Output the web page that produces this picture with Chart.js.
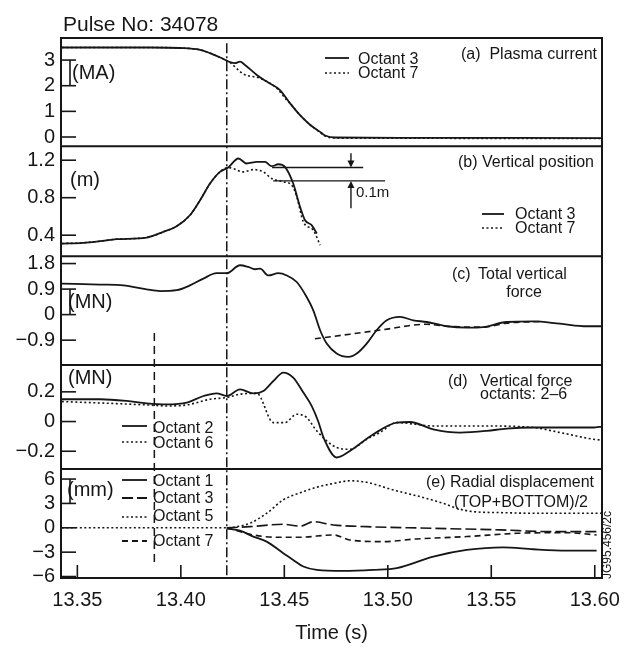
<!DOCTYPE html>
<html>
<head>
<meta charset="utf-8">
<script src="https://cdn.jsdelivr.net/npm/chart.js@4.4.1/dist/chart.umd.min.js"></script>
<style>
  html, body { margin: 0; padding: 0; background: #fff; overflow: hidden; }
  canvas { display: block; }
</style>
</head>
<body>
<canvas id="pulseChart" width="638" height="648"></canvas>
<script>
// time axis
const xTicks = [13.35, 13.40, 13.45, 13.50, 13.55, 13.60];
const xRange = [13.3421, 13.6035];
const tDisrupt = 13.4222;   // dash-dot line
const tMarker = 13.3872;    // dashed line

// (a) plasma current, MA
const tA3 = [13.3425, 13.3851, 13.3996, 13.4093, 13.4141, 13.4198, 13.4238, 13.4262, 13.4286, 13.4310, 13.4367, 13.4415, 13.4479, 13.4528, 13.4576, 13.4624, 13.4673, 13.4697, 13.4745, 13.5059, 13.6035];
const vA3 = [3.49, 3.49, 3.47, 3.40, 3.27, 3.07, 2.92, 2.88, 2.94, 2.81, 2.42, 2.16, 1.83, 1.31, 0.85, 0.48, 0.20, 0.06, -0.02, -0.03, -0.04];
const tA7 = [13.3425, 13.3851, 13.3996, 13.4093, 13.4141, 13.4198, 13.4238, 13.4302, 13.4383, 13.4463, 13.4512, 13.4528, 13.4576, 13.4624, 13.4673, 13.4697, 13.4745, 13.5059, 13.6035];
const vA7 = [3.49, 3.49, 3.47, 3.40, 3.27, 3.07, 2.90, 2.46, 2.29, 1.90, 1.44, 1.31, 0.85, 0.48, 0.18, 0.04, -0.04, -0.05, -0.06];

// (b) vertical position, m
const tB3 = [13.3425, 13.3529, 13.3610, 13.3690, 13.3835, 13.3915, 13.3980, 13.4044, 13.4093, 13.4141, 13.4189, 13.4229, 13.4278, 13.4318, 13.4367, 13.4407, 13.4439, 13.4471, 13.4503, 13.4543, 13.4576, 13.4600, 13.4632, 13.4657];
const vB3 = [0.311, 0.318, 0.336, 0.357, 0.375, 0.435, 0.496, 0.613, 0.773, 0.951, 1.075, 1.122, 1.218, 1.165, 1.182, 1.182, 1.136, 1.157, 1.129, 0.951, 0.702, 0.560, 0.507, 0.418];
const tB7 = [13.3425, 13.3529, 13.3610, 13.3690, 13.3835, 13.3915, 13.3980, 13.4044, 13.4093, 13.4141, 13.4189, 13.4229, 13.4254, 13.4302, 13.4350, 13.4399, 13.4439, 13.4495, 13.4536, 13.4560, 13.4592, 13.4640, 13.4673];
const vB7 = [0.311, 0.318, 0.336, 0.357, 0.375, 0.435, 0.496, 0.613, 0.773, 0.951, 1.075, 1.122, 1.110, 1.075, 1.100, 1.075, 1.005, 0.970, 0.933, 0.810, 0.542, 0.453, 0.293];
const bMarks = [1.122, 0.979];  // the 0.1m bracket

// (c) total vertical force, MN
const tC = [13.3425, 13.3610, 13.3722, 13.3835, 13.3900, 13.3980, 13.4044, 13.4109, 13.4173, 13.4222, 13.4286, 13.4326, 13.4358, 13.4383, 13.4423, 13.4471, 13.4512, 13.4560, 13.4608, 13.4640, 13.4673, 13.4705, 13.4753, 13.4809, 13.4850, 13.4898, 13.4946, 13.4995, 13.5059, 13.5123, 13.5188, 13.5285, 13.5381, 13.5461, 13.5574, 13.5703, 13.5832, 13.5961, 13.6035];
const vC = [1.09, 1.06, 1.03, 0.89, 0.83, 0.86, 1.03, 1.27, 1.46, 1.46, 1.74, 1.68, 1.60, 1.62, 1.38, 1.46, 1.38, 1.15, 0.62, 0.15, -0.55, -1.02, -1.37, -1.49, -1.37, -1.02, -0.55, -0.20, -0.08, -0.20, -0.26, -0.41, -0.46, -0.44, -0.26, -0.24, -0.32, -0.41, -0.41];
const tC2 = [13.4648, 13.4817, 13.4978, 13.5188, 13.5285, 13.5461, 13.5574, 13.5735];
const vC2 = [-0.85, -0.69, -0.53, -0.34, -0.41, -0.44, -0.30, -0.24];

// (d) vertical force octants 2-6, MN
const tD2 = [13.3425, 13.3610, 13.3739, 13.3835, 13.3932, 13.4029, 13.4109, 13.4173, 13.4222, 13.4286, 13.4350, 13.4399, 13.4447, 13.4495, 13.4543, 13.4592, 13.4632, 13.4664, 13.4690, 13.4753, 13.4817, 13.4930, 13.5043, 13.5107, 13.5220, 13.5349, 13.5478, 13.5574, 13.5703, 13.5993, 13.6035];
const vD2 = [0.15, 0.15, 0.139, 0.123, 0.116, 0.128, 0.172, 0.19, 0.172, 0.217, 0.19, 0.206, 0.273, 0.33, 0.296, 0.195, 0.105, 0.0, -0.11, -0.242, -0.198, -0.086, -0.007, -0.003, -0.052, -0.074, -0.063, -0.047, -0.04, -0.04, -0.034];
const tD6 = [13.3425, 13.3835, 13.3932, 13.4029, 13.4141, 13.4222, 13.4286, 13.4367, 13.4447, 13.4503, 13.4560, 13.4608, 13.4657, 13.4753, 13.4817, 13.4898, 13.4962, 13.5043, 13.5220, 13.5461, 13.5703, 13.5832, 13.5993, 13.6035];
const vD6 = [0.135, 0.112, 0.105, 0.112, 0.15, 0.162, 0.184, 0.19, -0.007, -0.007, 0.049, 0.027, -0.063, -0.175, -0.187, -0.119, -0.074, -0.007, -0.03, -0.03, -0.04, -0.074, -0.119, -0.125];

// (e) radial displacement, mm
const tE1 = [13.4222, 13.4286, 13.4350, 13.4415, 13.4495, 13.4543, 13.4592, 13.4657, 13.4785, 13.4930, 13.5043, 13.5220, 13.5381, 13.5558, 13.5703, 13.5864, 13.6009];
const vE1 = [-0.1, -0.35, -1.08, -1.7, -3.13, -3.95, -4.77, -5.18, -5.3, -5.18, -4.97, -3.55, -2.73, -2.4, -2.64, -2.8, -2.8];
const tE3 = [13.4222, 13.4334, 13.4495, 13.4576, 13.4640, 13.4737, 13.4898, 13.5220, 13.5542, 13.5784, 13.6009];
const vE3 = [0, 0.14, 0.43, 0.2, 0.75, 0.35, 0.14, -0.06, -0.26, -0.47, -0.47];
const tE5 = [13.3425, 13.4222, 13.4262, 13.4334, 13.4415, 13.4495, 13.4576, 13.4657, 13.4737, 13.4817, 13.4898, 13.5027, 13.5156, 13.5268, 13.5333, 13.5413, 13.5542, 13.5703, 13.6035];
const vE5 = [0, 0, 0.1, 0.56, 1.79, 3.44, 4.3, 5.0, 5.45, 5.79, 5.6, 4.65, 3.83, 3.01, 2.40, 1.99, 1.87, 1.79, 1.79];
const tE7 = [13.4222, 13.4350, 13.4463, 13.4576, 13.4737, 13.4817, 13.4978, 13.5140, 13.5381, 13.5623, 13.5864, 13.6009];
const vE7 = [0, -0.88, -1.16, -1.16, -0.88, -1.5, -1.7, -1.37, -1.08, -0.68, -0.6, -0.88];

// y ticks of each panel
const ticksA = [0, 1, 2, 3];
const ticksB = [0.4, 0.8, 1.2];
const ticksC = [-0.9, 0, 0.9, 1.8];
const ticksD = [-0.2, 0, 0.2];
const ticksE = [-6, -3, 0, 3, 6];

const ink = "#161616";
const FONT = "'Liberation Sans', Arial, Helvetica, sans-serif";
Chart.defaults.font.family = FONT;
Chart.defaults.color = ink;

const SOLID = [], DOTS = [2, 2.5], DASH = [6, 4], LONG = [11, 4];

function pts(t, v) { return t.map((x, i) => ({ x: x, y: v[i] })); }
function fmt(v) {
  let s = Number.isInteger(v) ? String(v) : v.toFixed(1);
  return s.replace("-", "\u2212");
}
function line(label, t, v, axis, dash, w) {
  return {
    label: label, data: pts(t, v), yAxisID: axis,
    borderColor: ink, borderWidth: w || 1.8, borderDash: dash,
    pointRadius: 0, fill: false, cubicInterpolationMode: "monotone"
  };
}
function yAxis(min, max, ticks, weight, order) {
  return {
    type: "linear", position: "left", stack: "panels", stackWeight: weight, weight: order,
    min: min, max: max,
    grid: { display: false, drawTicks: false },
    border: { display: false },
    afterBuildTicks: s => { s.ticks = ticks.map(v => ({ value: v })); },
    afterFit: s => { s.width = 61; },
    ticks: { font: { size: 20 }, padding: 6, color: ink, callback: v => fmt(v), autoSkip: false }
  };
}

const panelDeco = {
  id: "panelDeco",
  afterDatasetsDraw(chart) {
    const { ctx, chartArea: ca, scales } = chart;
    const X = scales.x;
    const seg = (x1, y1, x2, y2) => { ctx.beginPath(); ctx.moveTo(x1, y1); ctx.lineTo(x2, y2); ctx.stroke(); };
    const txt = (s, x, y, size, align) => {
      ctx.font = size + "px " + FONT; ctx.textAlign = align || "left"; ctx.textBaseline = "middle";
      ctx.fillText(s, x, y);
    };
    const key = (x1, x2, y, dash, w) => { ctx.lineWidth = w || 1.8; ctx.setLineDash(dash); seg(x1, y, x2, y); ctx.setLineDash([]); };
    ctx.save();
    ctx.strokeStyle = ink; ctx.fillStyle = ink;

    // reference lines
    const xd = X.getPixelForValue(tDisrupt);
    ctx.lineWidth = 1.5; ctx.setLineDash([10, 3, 2, 3]);
    seg(xd, scales.yA.getPixelForValue(3.66), xd, ca.bottom);
    const xm = X.getPixelForValue(tMarker);
    ctx.setLineDash([8, 5]);
    seg(xm, scales.yC.getPixelForValue(-0.65), xm, scales.yE.getPixelForValue(-4.3));
    ctx.setLineDash([]);

    // frame and panel separators
    ctx.lineWidth = 2;
    ctx.strokeRect(ca.left, ca.top, ca.width, ca.height);
    ["yB", "yC", "yD", "yE"].forEach(id => seg(ca.left, scales[id].top, ca.right, scales[id].top));

    // inward ticks
    ctx.lineWidth = 1.6;
    ["yA", "yB", "yC", "yD", "yE"].forEach(id => {
      scales[id].ticks.forEach(t => { const y = scales[id].getPixelForValue(t.value); seg(ca.left, y, ca.left + 15, y); });
    });
    X.ticks.forEach(t => { const x = X.getPixelForValue(t.value); seg(x, ca.bottom, x, ca.bottom - 13); });
    // unit brackets
    [["yA", 3, 2], ["yC", 0.9, 0], ["yE", 6, 3]].forEach(b => {
      seg(ca.left + 9, scales[b[0]].getPixelForValue(b[1]), ca.left + 9, scales[b[0]].getPixelForValue(b[2]));
    });

    // units
    txt("(MA)", 72, 73, 20);
    txt("(m)", 70, 180, 20);
    txt("(MN)", 68, 302, 20);
    txt("(MN)", 68, 378, 20);
    txt("(mm)", 67, 490, 20);

    // panel captions
    txt("(a)  Plasma current", 597, 55, 16, "right");
    txt("(b) Vertical position", 594, 163, 16, "right");
    txt("(c)", 452, 275, 16);
    txt("Total vertical", 478, 275, 16);
    txt("force", 524, 293, 16, "center");
    txt("(d)", 448, 382, 16);
    txt("Vertical force", 480, 382, 16);
    txt("octants: 2\u20136", 480, 395, 16);
    txt("(e) Radial displacement", 594, 483, 16, "right");
    txt("(TOP+BOTTOM)/2", 588, 503, 16, "right");

    // legends
    key(325, 349, 58, SOLID); txt("Octant 3", 358, 60, 16);
    key(325, 349, 73, DOTS, 1.6); txt("Octant 7", 358, 74, 16);
    key(482, 504, 214, SOLID); txt("Octant 3", 515, 215, 16);
    key(482, 504, 228, DOTS, 1.6); txt("Octant 7", 515, 229, 16);
    key(122, 147, 426, SOLID); txt("Octant 2", 153, 429, 16);
    key(122, 147, 442, DOTS, 1.6); txt("Octant 6", 153, 444, 16);
    key(122, 147, 480, SOLID); txt("Octant 1", 153, 482, 16);
    key(122, 147, 498, LONG); txt("Octant 3", 153, 499, 16);
    key(122, 147, 517, DOTS, 1.6); txt("Octant 5", 153, 517, 16);
    key(122, 147, 541, DASH); txt("Octant 7", 153, 542, 16);

    // 0.1m bracket in (b)
    const yB = scales.yB;
    const yu = yB.getPixelForValue(bMarks[0]), yl = yB.getPixelForValue(bMarks[1]);
    ctx.lineWidth = 1.4;
    seg(X.getPixelForValue(13.4441), yu, X.getPixelForValue(13.4881), yu);
    seg(X.getPixelForValue(13.4446), yl, X.getPixelForValue(13.4987), yl);
    const xa = X.getPixelForValue(13.4822);
    seg(xa, yB.getPixelForValue(1.275), xa, yu - 6);
    seg(xa, yB.getPixelForValue(0.688), xa, yl + 6);
    ctx.beginPath(); ctx.moveTo(xa - 3.5, yu - 7); ctx.lineTo(xa + 3.5, yu - 7); ctx.lineTo(xa, yu); ctx.closePath(); ctx.fill();
    ctx.beginPath(); ctx.moveTo(xa - 3.5, yl + 7); ctx.lineTo(xa + 3.5, yl + 7); ctx.lineTo(xa, yl); ctx.closePath(); ctx.fill();
    txt("0.1m", xa + 5, yB.getPixelForValue(0.848), 15);

    // title and figure id
    txt("Pulse No: 34078", 63, 25, 21);
    ctx.save();
    ctx.translate(608, 545); ctx.rotate(-Math.PI / 2);
    txt("JG95.456/2c", 0, 0, 12, "center");
    ctx.restore();
    ctx.restore();
  }
};

new Chart(document.getElementById("pulseChart"), {
  type: "line",
  data: {
    datasets: [
      line("(a) Octant 3", tA3, vA3, "yA", SOLID),
      line("(a) Octant 7", tA7, vA7, "yA", DOTS, 1.6),
      line("(b) Octant 3", tB3, vB3, "yB", SOLID),
      line("(b) Octant 7", tB7, vB7, "yB", DOTS, 1.6),
      line("(c) Total vertical force", tC, vC, "yC", SOLID),
      line("(c) dashed", tC2, vC2, "yC", DASH, 1.6),
      line("(d) Octant 2", tD2, vD2, "yD", SOLID),
      line("(d) Octant 6", tD6, vD6, "yD", DOTS, 1.6),
      line("(e) Octant 1", tE1, vE1, "yE", SOLID),
      line("(e) Octant 3", tE3, vE3, "yE", LONG, 1.6),
      line("(e) Octant 5", tE5, vE5, "yE", DOTS, 1.6),
      line("(e) Octant 7", tE7, vE7, "yE", DASH, 1.6)
    ]
  },
  options: {
    responsive: false,
    animation: false,
    devicePixelRatio: 1,
    layout: { padding: { top: 38, left: 0, right: 36, bottom: 0 } },
    plugins: { legend: { display: false }, tooltip: { enabled: false } },
    scales: {
      x: {
        type: "linear", position: "bottom", min: xRange[0], max: xRange[1],
        grid: { display: false, drawTicks: false },
        border: { display: false },
        afterBuildTicks: s => { s.ticks = xTicks.map(v => ({ value: v })); },
        afterFit: s => { s.height = 70; },
        ticks: { font: { size: 20 }, padding: 10, color: ink, autoSkip: false, maxRotation: 0, callback: v => v.toFixed(2) },
        title: { display: true, text: "Time (s)", font: { size: 20 }, color: ink, padding: { top: 0, bottom: 3 } }
      },
      yE: yAxis(-6.18, 7.23, ticksE, 109, 1),
      yD: yAxis(-0.32, 0.38, ticksD, 104, 2),
      yC: yAxis(-1.78, 2.06, ticksC, 109, 3),
      yB: yAxis(0.176, 1.349, ticksB, 110, 4),
      yA: yAxis(-0.36, 3.86, ticksA, 108.3, 5)
    }
  },
  plugins: [panelDeco]
});
</script>
</body>
</html>
